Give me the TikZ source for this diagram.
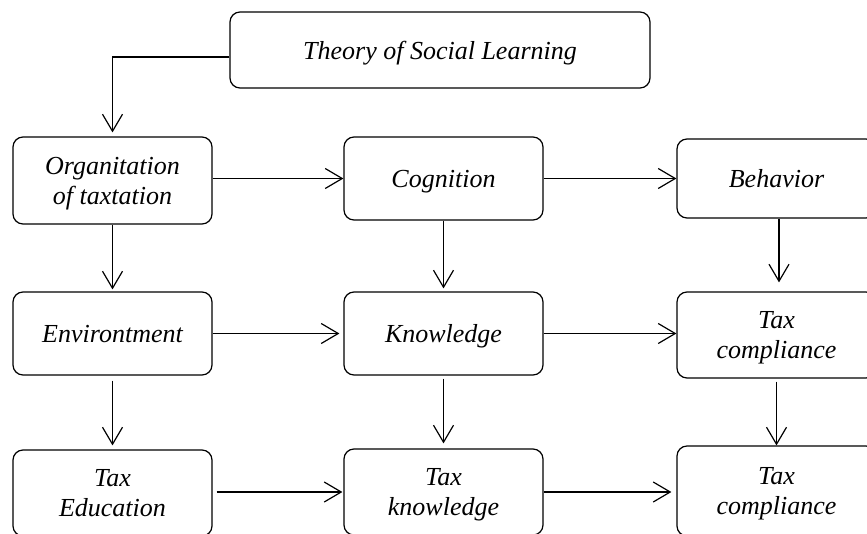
\documentclass[tikz,border=0pt]{standalone}
\usepackage{fontspec}
\setmainfont{Liberation Serif}
\usetikzlibrary{arrows.meta}
\begin{document}
\begin{tikzpicture}[x=1pt,y=-1pt,
  box/.style={draw, line width=1.2pt, rounded corners=10pt, align=center,
    minimum width=199pt, inner sep=0pt, text depth=0pt,
    font=\fontsize{26}{30}\selectfont\itshape},
  arr/.style={line width=1.2pt, -{Straight Barb[length=17pt,width=20pt,line width=1.2pt]}}]
\useasboundingbox (0,0) rectangle (867,533);
\clip (0,0) rectangle (867,533);
\node[box, minimum width=420pt, minimum height=76pt] (top) at (440,50) {Theory of Social Learning};
\node[box, minimum height=87pt] (org) at (112.5,180.5) {Organitation\\of taxtation};
\node[box, minimum height=83pt] (cog) at (443.5,178.5) {Cognition};
\node[box, minimum height=79pt] (beh) at (776.5,178.5) {Behavior};
\node[box, minimum height=83pt] (env) at (112.5,333.5) {Environtment};
\node[box, minimum height=83pt] (kno) at (443.5,333.5) {Knowledge};
\node[box, minimum height=86pt] (tc1) at (776.5,335) {Tax\\compliance};
\node[box, minimum height=86pt] (edu) at (112.5,493) {Tax\\Education};
\node[box, minimum height=86pt] (tk) at (443.5,492) {Tax\\knowledge};
\node[box, minimum height=90pt] (tc2) at (776.5,491) {Tax\\compliance};
% connectors
\draw[arr] ([yshift=-7pt]top.west) -| ([yshift=4pt]org.north);
\draw[arr] (org.east |- cog.west) -- (cog.west);
\draw[arr] (cog.east) -- (beh.west |- cog.east);
\draw[arr] (env.east) -- ([xshift=-4pt]kno.west);
\draw[arr] (kno.east) -- (tc1.west |- kno.east);
\draw[arr] ([xshift=4pt]edu.east |- tk.west) -- ([xshift=-1pt]tk.west);
\draw[arr] (tk.east) -- ([xshift=-5pt]tc2.west |- tk.east);
\draw[arr] (org.south) -- ([yshift=2pt]env.north);
\draw[arr] ([yshift=-5pt]env.south) -- ([yshift=4pt]edu.north);
\draw[arr] (cog.south) -- ([yshift=3pt]kno.north);
\draw[arr] ([yshift=-3pt]kno.south) -- ([yshift=5pt]tk.north);
\draw[arr] ([xshift=2.5pt]beh.south) -- ([xshift=2.5pt,yshift=9pt]tc1.north);
\draw[arr] ([yshift=-3pt]tc1.south) -- (tc2.north);
\end{tikzpicture}
\end{document}
